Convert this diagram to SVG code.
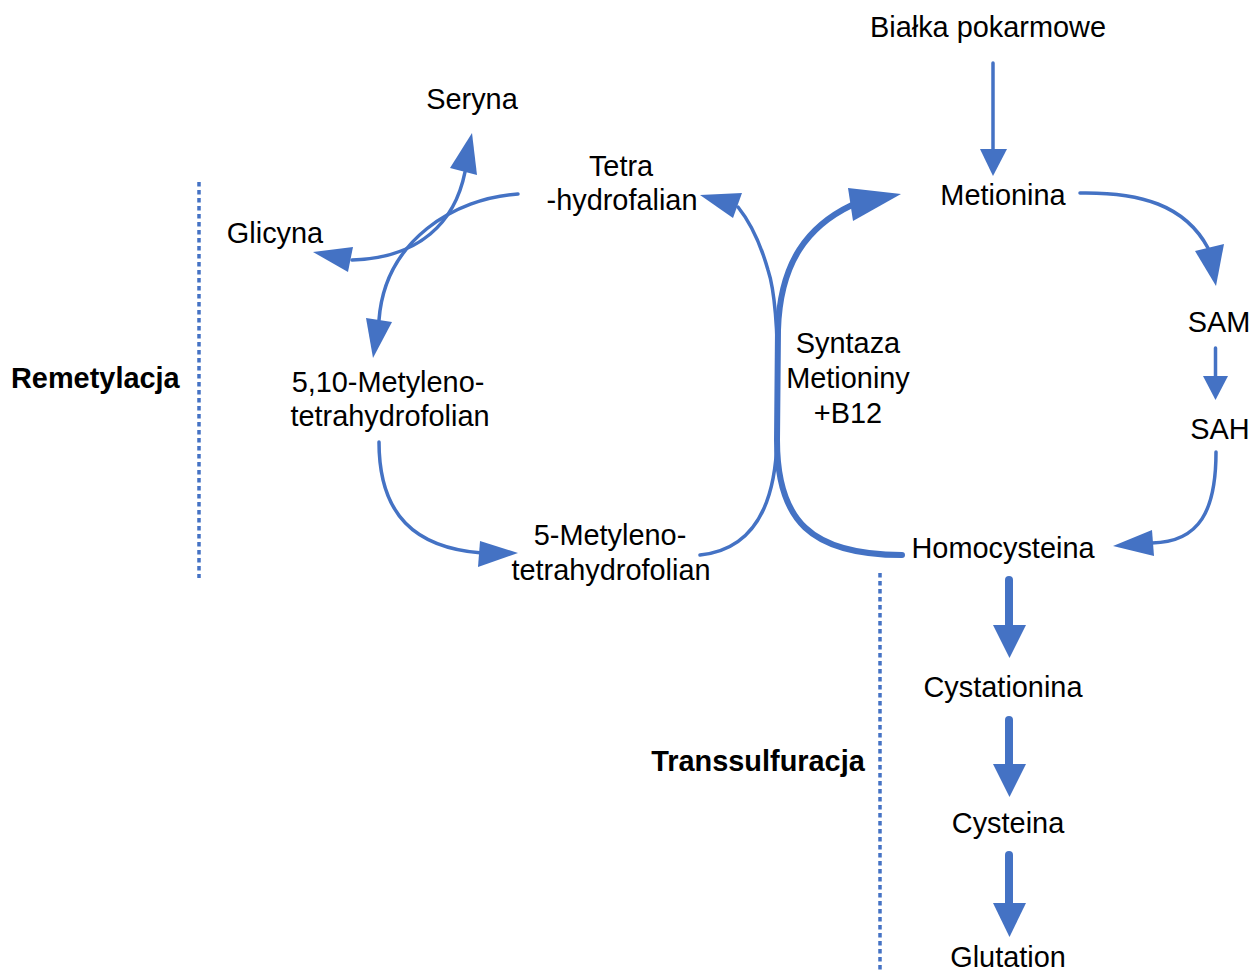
<svg xmlns="http://www.w3.org/2000/svg" width="1253" height="971" viewBox="0 0 1253 971">
<style>
text{font-family:"Liberation Sans",Arial,sans-serif;font-size:28.9px;fill:#000;text-anchor:middle}
.b{font-weight:bold}
.st{text-anchor:start}
.ln{fill:none;stroke:#4472C4;stroke-width:3.5;stroke-linecap:round}
.thk{stroke-width:6}
.vthk{stroke-width:8;stroke-linecap:round}
.hd{fill:#4472C4;stroke:none}
.dot{fill:none;stroke:#4472C4;stroke-width:3.5;stroke-dasharray:4.5 3.5}
</style>
<rect width="1253" height="971" fill="#fff"/>
<g id="connectors">
<line class="dot" x1="199" y1="182" x2="199" y2="578"/>
<line class="dot" x1="880" y1="573" x2="880" y2="971"/>
<line class="ln" x1="993" y1="63" x2="993" y2="152"/>
<polygon class="hd" points="980,149 1007,149 993,176"/>
<path class="ln" d="M1080,193 C1140,192 1185,205 1208,248"/>
<polygon class="hd" points="1195,251 1224,244 1216,286"/>
<line class="ln" x1="1215.5" y1="348" x2="1215.5" y2="378"/>
<polygon class="hd" points="1203,376 1228,376 1215.5,400"/>
<path class="ln" d="M1216,452 C1216,510 1200,542 1152,543"/>
<polygon class="hd" points="1152,530 1154,556 1113,546"/>
<line class="ln vthk" x1="1009" y1="580" x2="1009" y2="627"/>
<polygon class="hd" points="993,625 1026,625 1009.5,658"/>
<line class="ln vthk" x1="1009" y1="720" x2="1009" y2="766"/>
<polygon class="hd" points="993,764 1026,764 1009.5,797"/>
<line class="ln vthk" x1="1009" y1="855" x2="1009" y2="905"/>
<polygon class="hd" points="993,903 1026,903 1009.5,937"/>
<path class="ln thk" d="M902,555 C810,555 777,520 777,440 L778,330 C780,262 808,226 852,205"/>
<polygon class="hd" points="848,188 853,221 901,194"/>
<path class="ln" d="M700,555 C750,550 775,510 777,440 C779,370 778,300 768,270 C760,242 750,222 738,207"/>
<polygon class="hd" points="742,193 733,218 700,195"/>
<path class="ln" d="M518,194 C455,198 385,240 379,320"/>
<polygon class="hd" points="366,318 392,322 373,358"/>
<path class="ln" d="M352,260 C420,258 455,222 465,172"/>
<polygon class="hd" points="450,168 477,175 472,133"/>
<polygon class="hd" points="353,247 348,272 313,252"/>
<path class="ln" d="M379,442 C379,515 415,548 482,553"/>
<polygon class="hd" points="480,541 478,567 518,553"/>
</g>
<g id="bialka"><text x="988" y="37">Białka pokarmowe</text></g>
<g id="seryna"><text x="472" y="109">Seryna</text></g>
<g id="tetra"><text x="621" y="176">Tetra</text><text x="622" y="210">-hydrofalian</text></g>
<g id="metionina"><text x="1003" y="205">Metionina</text></g>
<g id="glicyna"><text x="275" y="243">Glicyna</text></g>
<g id="sam"><text x="1219" y="332">SAM</text></g>
<g id="sah"><text x="1220" y="439">SAH</text></g>
<g id="syntaza"><text x="848" y="353">Syntaza</text><text x="848" y="388">Metioniny</text><text x="848" y="423">+B12</text></g>
<g id="remetylacja"><text class="b st" x="11" y="388">Remetylacja</text></g>
<g id="metyleno510"><text x="388" y="392">5,10-Metyleno-</text><text x="390" y="426">tetrahydrofolian</text></g>
<g id="metyleno5"><text x="610" y="545">5-Metyleno-</text><text x="611" y="580">tetrahydrofolian</text></g>
<g id="homocysteina"><text x="1003" y="558">Homocysteina</text></g>
<g id="cystationina"><text x="1003" y="697">Cystationina</text></g>
<g id="cysteina"><text x="1008" y="833">Cysteina</text></g>
<g id="glutation"><text x="1008" y="967">Glutation</text></g>
<g id="transsulfuracja"><text class="b" x="758" y="771">Transsulfuracja</text></g>
</svg>
